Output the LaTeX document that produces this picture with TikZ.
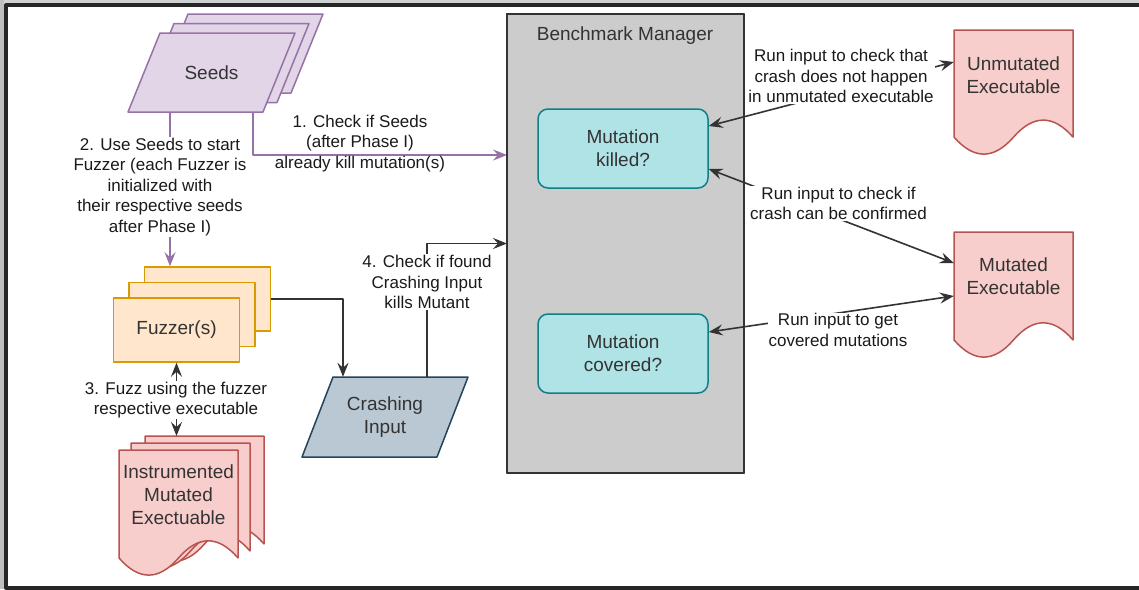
\documentclass[tikz,border=0pt]{standalone}
\usepackage{fontspec}
\setmainfont{Liberation Sans}
\usetikzlibrary{arrows.meta,calc}

\definecolor{seedfill}{HTML}{E1D5E7}
\definecolor{seedline}{HTML}{9673A6}
\definecolor{fuzzfill}{HTML}{FFE6CC}
\definecolor{fuzzline}{HTML}{D79B00}
\definecolor{docfill}{HTML}{F8CECC}
\definecolor{docline}{HTML}{B85450}
\definecolor{crashfill}{HTML}{BAC8D3}
\definecolor{crashline}{HTML}{23445D}
\definecolor{tealfill}{HTML}{B0E3E6}
\definecolor{tealline}{HTML}{0E8088}
\definecolor{mgrfill}{HTML}{CCCCCC}
\definecolor{ink}{HTML}{333333}
\definecolor{labelink}{HTML}{1A1A1A}
\definecolor{framecol}{HTML}{262626}

% parallelogram: style, x of bottom-left corner, y of bottom edge, width, height, skew
\newcommand{\paragram}[6]{%
  \draw[#1] (#2,#3) -- ++(#4,0) -- ++(#6,-#5) -- ++(-#4,0) -- cycle;}

% document sheet with wavy bottom: style, x, y (top-left), width, height
\newcommand{\docshape}[5]{%
  \draw[#1] (#2,#3) -- ({#2+#4},#3) -- ({#2+#4},{#3+0.85*#5})
    .. controls ({#2+0.8333*#4},{#3+0.67*#5}) and ({#2+0.6667*#4},{#3+0.67*#5})
    .. ({#2+0.5*#4},{#3+0.85*#5})
    .. controls ({#2+0.3333*#4},{#3+1.03*#5}) and ({#2+0.1667*#4},{#3+1.03*#5})
    .. (#2,{#3+0.85*#5}) -- cycle;}

\begin{document}
\begin{tikzpicture}[x=1pt,y=-1pt,line join=round,
  >={Stealth[length=14pt,width=11pt,inset=5pt]},
  txt/.style={font=\fontsize{19}{23}\selectfont,text=ink,align=center},
  edgelbl/.style={font=\fontsize{17}{20.5}\selectfont,text=labelink,align=center,inner sep=1pt},
  wlbl/.style={edgelbl,fill=white},
  seedshape/.style={draw=seedline,fill=seedfill,line width=1.5pt},
  fuzzbox/.style={draw=fuzzline,fill=fuzzfill,line width=1.5pt,minimum width=126,minimum height=64,inner sep=0},
  docstyle/.style={draw=docline,fill=docfill,line width=1.5pt},
  crashshape/.style={draw=crashline,fill=crashfill,line width=1.5pt},
  tealbox/.style={txt,draw=tealline,fill=tealfill,line width=1.5pt,rounded corners=10pt,minimum width=170,minimum height=79,inner sep=0},
  conn/.style={draw=ink,line width=1.6pt,->},
  bothconn/.style={draw=ink,line width=1.6pt,<->},
  seedconn/.style={draw=seedline,line width=1.6pt,->}]

\useasboundingbox (0,0) rectangle (1139,589);
\fill[white] (0,0) rectangle (1139,589);

% outer frame
\fill[black!25] (0,0) rectangle (4,589);
\fill[black!18] (4,0) rectangle (1139,3);
\draw[framecol,line width=4pt] (1139,5) -- (6,5) -- (6,587.5) -- (1139,587.5);

% Seeds stack
\paragram{seedshape}{156}{93}{135}{79}{32}
\paragram{seedshape}{142}{102.5}{135}{79}{32}
\paragram{seedshape}{128}{112}{135}{79}{32}
\node[txt,minimum width=135,minimum height=79,inner sep=0] (seeds) at (211.5,72.5) {Seeds};

% Fuzzer stack
\node[fuzzbox] (fuzzback) at (207.5,299) {};
\node[fuzzbox] (fuzzmid) at (192,314.5) {};
\node[fuzzbox,txt] (fuzzfront) at (176.5,330) {Fuzzer(s)};

% Instrumented executable stack
\docshape{docstyle}{145}{436}{119}{127}
\docshape{docstyle}{131}{443}{119}{127}
\docshape{docstyle}{119}{450}{119}{127}
\node[inner sep=0,minimum width=119,minimum height=108,anchor=north] (instback) at (204.5,436) {};
\node[txt] (instfront) at (178.5,494.5) {Instrumented\\Mutated\\Exectuable};

% Crashing input
\paragram{crashshape}{302}{457}{135}{80}{31}
\node[txt,minimum width=135,minimum height=80,inner sep=0] (crash) at (385,417) {Crashing\\Input};

% Benchmark manager
\node[draw=ink,fill=mgrfill,line width=1.5pt,minimum width=237,minimum height=459,outer sep=0,inner sep=0] (bm) at (625.5,243.5) {};
\node[txt] (bmlabel) at (625,36) {Benchmark Manager};
\node[tealbox] (killed) at (623,148.5) {Mutation\\killed?};
\node[tealbox] (covered) at (623,353.5) {Mutation\\covered?};

% Executables on the right
\docshape{docstyle}{954}{30}{119}{126}
\node[txt,minimum width=119,inner sep=0] (unmut) at (1013.5,75) {Unmutated\\Executable};
\docshape{docstyle}{954}{232}{119}{127}
\node[txt,minimum width=119,inner sep=0] (mut) at (1013.5,276.5) {Mutated\\Executable};

% connectors
\coordinate (s2) at ($(seeds.south)+(-41.5,0)$);
\coordinate (s1) at ($(seeds.south)+(41.5,0)$);
\draw[seedconn] (s2) -- (s2 |- fuzzback.north);
\draw[seedconn] (s1) |- ($(bm.north west)+(0,141)$);
\node[wlbl] (l2) at (160,187) {2. Use Seeds to start\\Fuzzer (each Fuzzer is\\initialized with\\their respective seeds\\after Phase I)};
\node[edgelbl] (l1) at (360,143.5) {1. Check if Seeds\\(after Phase I)\\already kill mutation(s)};

\draw[conn] (fuzzback.east) -| ($(crash.north)+(-42,0)$);
\draw[bothconn] (fuzzfront.south) -- (fuzzfront.south |- instback.north);
\node[wlbl] (l3) at (176,400) {3. Fuzz using the fuzzer\\respective executable};

\draw[conn] ($(crash.north)+(42,0)$) |- (bm.west);
\node[wlbl] (l4) at (427,282) {4. Check if found\\Crashing Input\\kills Mutant};

\draw[bothconn] ($(killed.east)+(0,-22.5)$) -- ($(unmut.west)+(0,-13)$);
\draw[bothconn] ($(killed.east)+(0,20.5)$) -- ($(mut.west)+(0,-13.5)$);
\draw[bothconn] ($(covered.east)+(0,-21.5)$) -- ($(mut.west)+(0,19.5)$);
\node[wlbl] (la) at (841,76) {Run input to check that\\crash does not happen\\in unmutated executable};
\node[wlbl] (lb) at (838.5,203.5) {Run input to check if\\crash can be confirmed};
\node[wlbl] (lc) at (838,330) {Run input to get\\covered mutations};

% manager outline kept on top of the labels
\draw[ink,line width=1.5pt] (bm.north west) rectangle (bm.south east);
\end{tikzpicture}
\end{document}
